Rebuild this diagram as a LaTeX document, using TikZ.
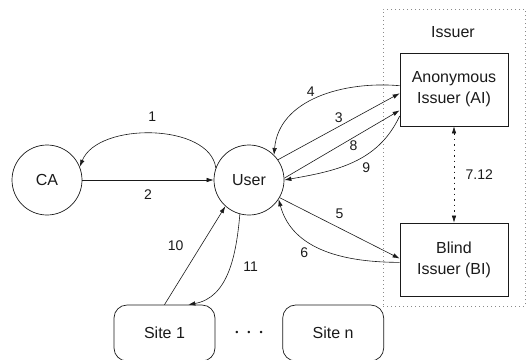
\documentclass[tikz,border=0pt]{standalone}
\usepackage{fontspec}
\setmainfont{Liberation Sans}
\usepackage{xcolor}
\usepackage{tikz}
\usetikzlibrary{arrows.meta,positioning}
\definecolor{inkline}{HTML}{1A1A1A}
\definecolor{groupline}{HTML}{8A8A8A}

\begin{document}
\begin{tikzpicture}[
  x=1pt, y=-1pt,
  >={Latex[length=7pt,width=4.5pt]},
  every node/.style={font=\fontsize{16}{21}\selectfont, text=inkline},
  party/.style={
    circle, draw=inkline, line width=0.7pt,
    minimum size=70pt, inner sep=0pt,
  },
  issuerbox/.style={
    rectangle, draw=inkline, line width=0.7pt,
    minimum width=108pt, minimum height=73pt,
    inner sep=2pt, align=center,
  },
  sitebox/.style={
    rectangle, rounded corners=13pt, draw=inkline, line width=0.7pt,
    minimum width=101pt, minimum height=56pt,
  },
  issuergroup/.style={
    rectangle, draw=groupline, line width=0.6pt,
    dash pattern=on 1pt off 3pt,
    minimum width=142pt, minimum height=297pt,
  },
  msg/.style={->, draw=inkline, line width=0.6pt},
  steplabel/.style={font=\fontsize{14}{16}\selectfont},
]

\useasboundingbox (0,0) rectangle (529,359);

\node[issuergroup] (grp) at (454,157.5) {};
\node (issuerlbl) at (453,32) {Issuer};

\node[party] (ca) at (47,180) {CA};
\node[party] (user) at (249,180) {User};

\node[issuerbox] (ai) at (454,89.5) {Anonymous\\Issuer (AI)};
\node[issuerbox] (bi) at (454,259.5) {Blind\\Issuer (BI)};

\node[sitebox] (site1) at (164.5,333) {Site 1};
\node[sitebox, right=67pt of site1] (siten) {Site n};
\node (dots) at (249,333) {\fontsize{9}{9}\selectfont\textbullet\hspace{9pt}\textbullet\hspace{9pt}\textbullet};

\draw[msg] (user.160) .. controls +(-6,-45) and +(18,-45) .. (ca.22)
  node[steplabel, pos=0.5, above=8pt] {1};
\draw[msg] (ca) -- (user) node[steplabel, midway, below=6pt] {2};

\draw[msg] (user.35) -- (ai.184) node[steplabel, midway, above=0pt] {3};
\draw[msg] (ai.176) to[out=175,in=85] node[steplabel, pos=0.55, above=1pt] {4} (user.45);
\draw[msg] (user.3) -- (ai.201) node[steplabel, pos=0.6, below=0pt] {8};
\draw[msg] (ai.206) to[out=245,in=10] node[steplabel, pos=0.45, below right=0pt] {9} (user.0);

\draw[msg] (user.-30) -- (bi.179) node[steplabel, midway, above=6pt] {5};
\draw[msg] (bi.183) to[out=180,in=-75] node[steplabel, pos=0.6, below left=0pt] {6} (user.-33);

\draw[<->, draw=inkline, line width=0.6pt, dash pattern=on 1.5pt off 4pt] (ai) -- (bi)
  node[steplabel, midway, right=8pt] {7.12};

\draw[msg] (site1.north) -- (user.-132) node[steplabel, pos=0.6, left=14pt] {10};
\draw[msg] (user.-105) to[out=-95,in=10] node[steplabel, pos=0.45, right=10pt] {11} (site1.50);

\end{tikzpicture}
\end{document}
